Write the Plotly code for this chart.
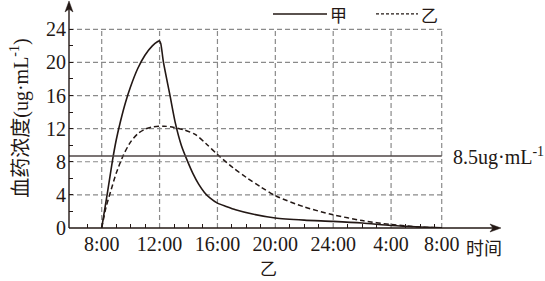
import plotly.graph_objects as go

# ---------------- data ----------------
hours_jia = [8.0, 8.4, 8.75, 9.0, 9.3, 9.65, 10.0, 10.5, 11.0, 11.5, 11.85, 12.0, 12.08,
             12.27, 12.7, 13.1, 13.5, 13.9, 14.3, 14.7, 15.1, 15.5, 16.0, 16.6, 17.25, 18.5,
             20.0, 22.0, 24.0, 26.0, 28.0, 30.0, 31.5]
conc_jia = [0, 4.3, 8.2, 10.6, 12.9, 15.2, 17.1, 19.3, 20.9, 22.0, 22.5, 22.6, 22.3,
            20.0, 16.2, 12.6, 10.0, 8.2, 6.6, 5.3, 4.3, 3.6, 3.0, 2.6, 2.2, 1.65,
            1.2, 0.95, 0.8, 0.6, 0.3, 0.12, 0.03]

hours_yi = [8.0, 8.3, 8.65, 9.0, 9.5, 10.0, 10.5, 11.0, 11.5, 12.3, 13.0, 13.7, 14.46,
            15.2, 16.05, 17.1, 18.0, 19.0, 20.0, 22.0, 24.0, 26.0, 28.0, 30.0, 31.5]
conc_yi = [0, 2.5, 4.6, 6.6, 8.8, 10.4, 11.4, 11.95, 12.2, 12.3, 12.15, 11.85, 11.3,
           10.2, 8.8, 7.25, 6.1, 4.95, 3.9, 2.55, 1.6, 0.9, 0.42, 0.12, 0.02]

x_tick_vals = [8, 12, 16, 20, 24, 28, 31.5]
x_tick_text = ["8:00", "12:00", "16:00", "20:00", "24:00", "4:00", "8:00"]
x_minor_vals = [7, 9, 10, 11, 13, 14, 15, 17, 18, 19, 21, 22, 23, 25, 26, 27, 29, 30, 31]
y_tick_vals = [0, 4, 8, 12, 16, 20, 24]
y_minor_vals = [2, 6, 10, 14, 18, 22]
threshold_drawn = 8.7
threshold_label = "8.5ug·mL<sup>-1</sup>"
legend_names = ["甲", "乙"]

# ---------------- layout constants ----------------
W, H = 545, 281
L, R, T, B = 69, 47, 2, 52.5
X_RANGE = [5.74, 35.39]
Y_RANGE = [0, 27.3]
INK = "#231815"
GRID = "#8a8a8a"
SERIF = "Liberation Serif, Times New Roman, Noto Sans CJK SC, serif"
CJK = "Noto Sans CJK SC, sans-serif"

pw = W - L - R
ph = H - T - B


def px_x(px):
    return (px - L) / pw


def px_y(py):
    return (H - B - py) / ph


def px_path(points):
    parts = []
    for i, (a, b) in enumerate(points):
        parts.append(("M" if i == 0 else "L") + f"{px_x(a):.5f},{px_y(b):.5f}")
    return " ".join(parts) + " Z"


fig = go.Figure()

fig.add_trace(go.Scatter(x=hours_jia, y=conc_jia, mode="lines", name=legend_names[0],
                         line=dict(color=INK, width=1.6, shape="spline", smoothing=0.7),
                         showlegend=False))
fig.add_trace(go.Scatter(x=hours_yi, y=conc_yi, mode="lines", name=legend_names[1],
                         line=dict(color=INK, width=1.5, dash="5px,3px", shape="spline", smoothing=0.8),
                         showlegend=False))
fig.add_trace(go.Scatter(x=[X_RANGE[0], x_tick_vals[-1]], y=[threshold_drawn, threshold_drawn],
                         mode="lines", line=dict(color="#4f4646", width=1.6), showlegend=False,
                         hoverinfo="skip"))

shapes = []
for xv in x_tick_vals:
    shapes.append(dict(type="line", xref="x", yref="y", x0=xv, x1=xv, y0=0, y1=y_tick_vals[-1],
                       line=dict(color=GRID, width=1.2, dash="5px,3px"), layer="below"))
for yv in y_tick_vals[1:]:
    shapes.append(dict(type="line", xref="x", yref="y", x0=X_RANGE[0], x1=x_tick_vals[-1], y0=yv, y1=yv,
                       line=dict(color=GRID, width=1.2, dash="5px,3px"), layer="below"))

# axes lines with arrowheads
shapes.append(dict(type="line", xref="paper", yref="paper", x0=0, x1=px_x(494),
                   y0=0, y1=0, line=dict(color=INK, width=1.4)))
shapes.append(dict(type="line", xref="paper", yref="paper", x0=0, x1=0,
                   y0=0, y1=px_y(7), line=dict(color=INK, width=1.4)))
shapes.append(dict(type="path", xref="paper", yref="paper",
                   path=px_path([(501, 228.5), (490, 224.5), (493, 228.5), (490, 232.5)]),
                   fillcolor=INK, line=dict(color=INK, width=0.5)))
shapes.append(dict(type="path", xref="paper", yref="paper",
                   path=px_path([(69, 1.0), (65, 12), (69, 9), (73, 12)]),
                   fillcolor=INK, line=dict(color=INK, width=0.5)))

# legend samples (manual)
shapes.append(dict(type="line", xref="paper", yref="paper", x0=px_x(273), x1=px_x(327),
                   y0=px_y(14), y1=px_y(14), line=dict(color=INK, width=1.5)))
shapes.append(dict(type="line", xref="paper", yref="paper", x0=px_x(376), x1=px_x(418),
                   y0=px_y(14), y1=px_y(14), line=dict(color=INK, width=1.3, dash="3px,2px")))

annotations = [
    dict(x=px_x(328), y=px_y(15), xref="paper", yref="paper", text=legend_names[0], showarrow=False,
         xanchor="left", yanchor="middle", font=dict(family=CJK, size=17, color=INK)),
    dict(x=px_x(419), y=px_y(15), xref="paper", yref="paper", text=legend_names[1], showarrow=False,
         xanchor="left", yanchor="middle", font=dict(family=CJK, size=17, color=INK)),
    dict(x=x_tick_vals[-1], y=threshold_drawn, xref="x", yref="y", text=threshold_label, showarrow=False,
         xanchor="left", yanchor="middle", xshift=9, yshift=-1, font=dict(family=SERIF, size=20, color=INK)),
    dict(x=px_x(20), y=px_y(119), xref="paper", yref="paper",
         text="血药浓度(ug·mL<sup>-1</sup>)", textangle=-90, showarrow=False,
         xanchor="center", yanchor="middle", font=dict(family=SERIF, size=20, color=INK)),
    dict(x=px_x(464), y=px_y(248), xref="paper", yref="paper", text="时间", showarrow=False,
         xanchor="left", yanchor="middle", font=dict(family=CJK, size=18, color=INK)),
    dict(x=px_x(268), y=px_y(268), xref="paper", yref="paper", text="乙", showarrow=False,
         xanchor="center", yanchor="middle", font=dict(family=CJK, size=17, color=INK)),
]

fig.update_layout(
    width=W, height=H,
    margin=dict(l=L, r=R, t=T, b=B, pad=0),
    paper_bgcolor="white", plot_bgcolor="white",
    showlegend=False,
    shapes=shapes,
    annotations=annotations,
    xaxis=dict(range=X_RANGE, showgrid=False, zeroline=False, showline=False,
               tickmode="array", tickvals=x_tick_vals, ticktext=x_tick_text,
               ticks="", tickfont=dict(family=SERIF, size=20, color=INK), ticklabelstandoff=2,
               minor=dict(tickmode="array", tickvals=x_minor_vals, ticks="inside", ticklen=4,
                          tickwidth=1.2, tickcolor=INK, showgrid=False),
               fixedrange=True),
    yaxis=dict(range=Y_RANGE, showgrid=False, zeroline=False, showline=False,
               tickmode="array", tickvals=y_tick_vals, ticks="inside", ticklen=4, tickwidth=1.2,
               tickcolor=INK, tickfont=dict(family=SERIF, size=20, color=INK), ticklabelstandoff=2,
               minor=dict(tickmode="array", tickvals=y_minor_vals, ticks="inside", ticklen=4,
                          tickwidth=1.2, tickcolor=INK, showgrid=False),
               fixedrange=True),
)

fig.write_html("out.html", config={"displayModeBar": False})
